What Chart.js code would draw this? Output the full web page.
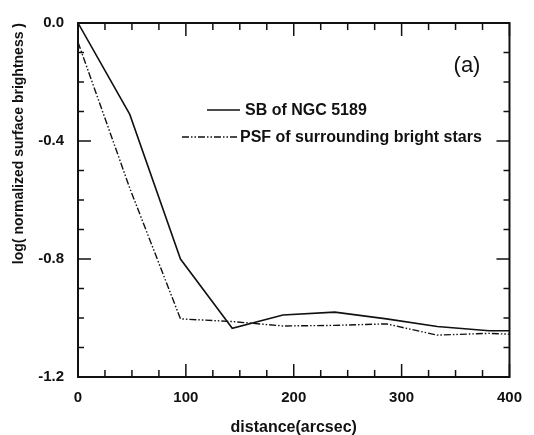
<!DOCTYPE html>
<html>
<head>
<meta charset="utf-8">
<script src="https://cdn.jsdelivr.net/npm/chart.js@4.4.1/dist/chart.umd.min.js"></script>
<style>
  html, body { margin: 0; padding: 0; background: #fff; }
  #wrap { width: 534px; height: 435px; }
</style>
</head>
<body>
<div id="wrap"><canvas id="sbChart" width="534" height="435"></canvas></div>
<script>
// Radial profiles: distance from centre (arcsec) vs log normalized surface brightness
const distance = [0, 48, 95, 143, 190, 238, 286, 333, 381, 400];
const sbNgc5189 = [0.0, -0.31, -0.80, -1.035, -0.99, -0.98, -1.003, -1.029, -1.043, -1.043];
const psfStars = [-0.065, -0.56, -1.003, -1.012, -1.027, -1.025, -1.02, -1.058, -1.052, -1.055];

const seriesLabels = ['SB of NGC 5189', 'PSF of surrounding bright stars'];
const panelLabel = '(a)';

// Axis ticks
const xTicks = [0, 100, 200, 300, 400];
const yTicks = [0.0, -0.4, -0.8, -1.2];
const xMinorStep = 25;
const yMinorStep = 0.1;

const INK = '#111';
const BOLD = "'Liberation Sans', Arial, sans-serif";

/**
 * Box frame with inward major/minor ticks on all four sides
 */
const frameTicks = {
    id: 'frameTicks',
    afterDraw(chart) {
        const { ctx, chartArea: a, scales: { x, y } } = chart;
        const seg = (x1, y1, x2, y2) => {
            ctx.beginPath();
            ctx.moveTo(x1, y1);
            ctx.lineTo(x2, y2);
            ctx.stroke();
        };
        ctx.save();
        ctx.strokeStyle = INK;
        ctx.lineWidth = 1.5;

        const nx = Math.round((x.max - x.min) / xMinorStep);
        for (let i = 0; i <= nx; i++) {
            const v = x.min + i * xMinorStep;
            const px = x.getPixelForValue(v);
            const len = xTicks.includes(v) ? 13 : 7;
            seg(px, a.bottom, px, a.bottom - len);
            seg(px, a.top, px, a.top + len);
        }

        const ny = Math.round((y.max - y.min) / yMinorStep);
        for (let i = 0; i <= ny; i++) {
            const v = y.max - i * yMinorStep;
            const py = y.getPixelForValue(v);
            const major = yTicks.some(t => Math.abs(t - v) < 1e-6);
            const len = major ? 13 : 6;
            seg(a.left, py, a.left + len, py);
            seg(a.right, py, a.right - len, py);
        }

        ctx.lineWidth = 2;
        ctx.strokeRect(a.left, a.top, a.width, a.height);
        ctx.restore();
    }
};

/**
 * In-plot legend and panel label
 */
const insideLegend = {
    id: 'insideLegend',
    afterDraw(chart) {
        const { ctx } = chart;
        const rows = [
            { x1: 207, x2: 240, tx: 245, y: 110 },
            { x1: 182, x2: 237, tx: 240, y: 137 }
        ];
        ctx.save();
        chart.data.datasets.forEach((ds, i) => {
            const r = rows[i];
            ctx.strokeStyle = ds.borderColor;
            ctx.lineWidth = ds.borderWidth;
            ctx.setLineDash(ds.borderDash || []);
            ctx.beginPath();
            ctx.moveTo(r.x1, r.y);
            ctx.lineTo(r.x2, r.y);
            ctx.stroke();
            ctx.setLineDash([]);
            ctx.fillStyle = INK;
            ctx.font = "bold 16px " + BOLD;
            ctx.textAlign = 'left';
            ctx.textBaseline = 'middle';
            ctx.fillText(ds.label, r.tx, r.y + 1);
        });
        ctx.font = "22px " + BOLD;
        ctx.textAlign = 'center';
        ctx.fillText(panelLabel, 467, 66);
        ctx.restore();
    }
};

function initProfileChart(canvasId) {
    const ctx = document.getElementById(canvasId)?.getContext('2d');
    if (!ctx) return;

    new Chart(ctx, {
        type: 'line',
        data: {
            labels: distance,
            datasets: [
                {
                    label: seriesLabels[0],
                    data: distance.map((d, i) => ({ x: d, y: sbNgc5189[i] })),
                    borderColor: INK,
                    borderWidth: 1.6,
                    pointRadius: 0,
                    tension: 0,
                    fill: false
                },
                {
                    label: seriesLabels[1],
                    data: distance.map((d, i) => ({ x: d, y: psfStars[i] })),
                    borderColor: INK,
                    borderWidth: 1.4,
                    borderDash: [7, 2, 1.5, 2, 1.5, 2],
                    pointRadius: 0,
                    tension: 0,
                    fill: false
                }
            ]
        },
        options: {
            responsive: false,
            animation: false,
            devicePixelRatio: 1,
            layout: { padding: { top: 20, right: 17, left: 0, bottom: 0 } },
            plugins: {
                legend: { display: false },
                tooltip: { enabled: false }
            },
            scales: {
                x: {
                    type: 'linear',
                    position: 'bottom',
                    min: 0,
                    max: 400,
                    afterBuildTicks: scale => { scale.ticks = xTicks.map(v => ({ value: v })); },
                    afterFit: scale => { scale.height = 58; },
                    grid: { display: false, drawTicks: false },
                    border: { display: false },
                    ticks: {
                        color: INK,
                        padding: 12,
                        maxRotation: 0,
                        font: { family: BOLD, size: 15, weight: 'bold' }
                    },
                    title: {
                        display: true,
                        text: 'distance(arcsec)',
                        color: INK,
                        padding: 0,
                        font: { family: BOLD, size: 16, weight: 'bold', lineHeight: 0.9 }
                    }
                },
                y: {
                    type: 'linear',
                    position: 'left',
                    min: -1.2,
                    max: 0,
                    afterBuildTicks: scale => { scale.ticks = yTicks.map(v => ({ value: v })); },
                    afterFit: scale => { scale.width = 78; },
                    grid: { display: false, drawTicks: false },
                    border: { display: false },
                    ticks: {
                        color: INK,
                        padding: 14,
                        font: { family: BOLD, size: 15, weight: 'bold' },
                        callback: v => (Math.abs(v) < 1e-9 ? 0 : v).toFixed(1)
                    },
                    title: {
                        display: true,
                        text: 'log( normalized surface brightness )',
                        color: INK,
                        align: 'end',
                        padding: { top: 11, bottom: 0 },
                        font: { family: BOLD, size: 14, weight: 'bold' }
                    }
                }
            }
        },
        plugins: [frameTicks, insideLegend]
    });
}

document.addEventListener('DOMContentLoaded', () => {
    initProfileChart('sbChart');
});
</script>
</body>
</html>
